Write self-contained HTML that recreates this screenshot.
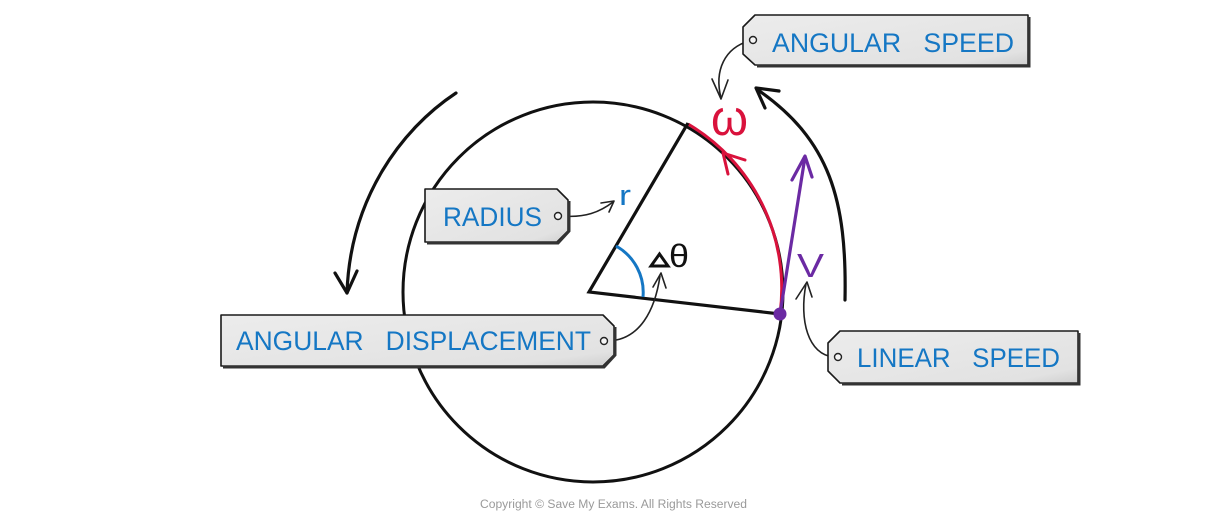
<!DOCTYPE html>
<html><head><meta charset="utf-8"><style>
html,body{margin:0;padding:0;background:#fff;}
svg{display:block;}
text{font-family:"Liberation Sans",sans-serif;}
</style></head><body>
<svg width="1226" height="528" viewBox="0 0 1226 528" xmlns="http://www.w3.org/2000/svg">
<defs>
<linearGradient id="tg" x1="0" y1="0" x2="1" y2="1">
<stop offset="0" stop-color="#ececec"/><stop offset="0.85" stop-color="#e2e2e2"/><stop offset="1" stop-color="#cfcfcf"/>
</linearGradient>
</defs>
<rect width="1226" height="528" fill="#fff"/>

<!-- main circle -->
<circle cx="593" cy="292" r="190" fill="none" stroke="#111" stroke-width="3"/>
<!-- red arc -->
<path d="M780,314 A191,191 0 0 0 688,124" fill="none" stroke="#d9123c" stroke-width="3"/>
<path d="M745,160 L723,153 L728,174" fill="none" stroke="#d9123c" stroke-width="3" stroke-linecap="round" stroke-linejoin="round"/>
<!-- radius lines -->
<path d="M688,123 L589,292 L780,314" fill="none" stroke="#111" stroke-width="3.2" stroke-linejoin="miter"/>
<!-- blue angle arc -->
<path d="M616,246 A53,53 0 0 1 643,297" fill="none" stroke="#1577c4" stroke-width="3"/>
<!-- purple velocity -->
<line x1="780" y1="314" x2="805" y2="157" stroke="#6b2aa3" stroke-width="3.2"/>
<path d="M792,180 L805,156 L812,177" fill="none" stroke="#6b2aa3" stroke-width="3.2" stroke-linecap="round" stroke-linejoin="round"/>
<circle cx="780" cy="314" r="6.5" fill="#6b2aa3"/>

<!-- outer arcs -->
<path d="M845,300 C847,200 830,140 758,90" fill="none" stroke="#111" stroke-width="3.2" stroke-linecap="round"/>
<path d="M779,91 L756,88 L765,108" fill="none" stroke="#111" stroke-width="3.2" stroke-linecap="round" stroke-linejoin="round"/>
<path d="M456,93 C400,130 350,200 347,293" fill="none" stroke="#111" stroke-width="3.2" stroke-linecap="round"/>
<path d="M335,273 L347,293 L357,271" fill="none" stroke="#111" stroke-width="3.2" stroke-linecap="round" stroke-linejoin="round"/>

<!-- symbols -->
<text x="711" y="135" font-size="50" fill="#d9123c" textLength="37" lengthAdjust="spacingAndGlyphs">ω</text>
<text x="797" y="277" font-size="33" fill="#6b2aa3" textLength="27" lengthAdjust="spacingAndGlyphs">V</text>
<text x="619" y="205" font-size="29" fill="#1577c4" textLength="12" lengthAdjust="spacingAndGlyphs">r</text>
<polygon points="651,266 659.5,254 668,266" fill="none" stroke="#111" stroke-width="3" stroke-linejoin="miter"/>
<text x="669" y="267" font-size="32" fill="#111" textLength="20" lengthAdjust="spacingAndGlyphs">θ</text>

<!-- connectors -->
<g fill="none" stroke="#222" stroke-width="1.6" stroke-linecap="round" stroke-linejoin="round">
<path d="M749,41 C725,48 714,70 721,98"/>
<path d="M712,79 L721,99 L728,80"/>
<path d="M562,216 C585,218 600,212 613,202"/>
<path d="M601,203 L614,201 L609,212"/>
<path d="M608,341 C640,340 655,310 660,276"/>
<path d="M653,287 L661,273 L666,288"/>
<path d="M834,357 C808,355 799,320 806,284"/>
<path d="M796,299 L807,282 L812,297"/>
</g>

<!-- tags -->
<g stroke="#1a1a1a" stroke-width="1.6" fill="url(#tg)" stroke-linejoin="round">
<polygon points="755,15 1028,15 1028,65 755,65 743,54 743,27"/>
<polygon points="425,189 557,189 568,200 568,231 557,242 425,242"/>
<polygon points="221,315 603,315 614,326 614,355 603,366 221,366"/>
<polygon points="840,331 1078,331 1078,383 840,383 828,371 828,343"/>
</g>
<g fill="none" stroke="#333" stroke-width="3" stroke-linecap="butt">
<path d="M1029,17 L1029,66 L757,66"/>
<path d="M569,201 L569,231 L558,243 L427,243"/>
<path d="M615,327 L615,355 L604,367 L223,367"/>
<path d="M1079,333 L1079,384 L842,384"/>
</g>
<g fill="#f4f4f4" stroke="#222" stroke-width="1.4">
<circle cx="753" cy="40" r="3.5"/>
<circle cx="558" cy="216" r="3.5"/>
<circle cx="604" cy="341" r="3.5"/>
<circle cx="838" cy="357" r="3.5"/>
</g>
<g fill="#1577c4" font-size="27">
<text x="772" y="52" textLength="242" lengthAdjust="spacingAndGlyphs" xml:space="preserve">ANGULAR   SPEED</text>
<text x="443" y="226" textLength="99" lengthAdjust="spacingAndGlyphs">RADIUS</text>
<text x="236" y="350" textLength="355" lengthAdjust="spacingAndGlyphs" xml:space="preserve">ANGULAR   DISPLACEMENT</text>
<text x="857" y="367" textLength="203" lengthAdjust="spacingAndGlyphs" xml:space="preserve">LINEAR   SPEED</text>
</g>

<text x="480" y="508" font-size="11.5" fill="#9a9a9a" textLength="267" lengthAdjust="spacingAndGlyphs">Copyright © Save My Exams. All Rights Reserved</text>
</svg>
</body></html>
